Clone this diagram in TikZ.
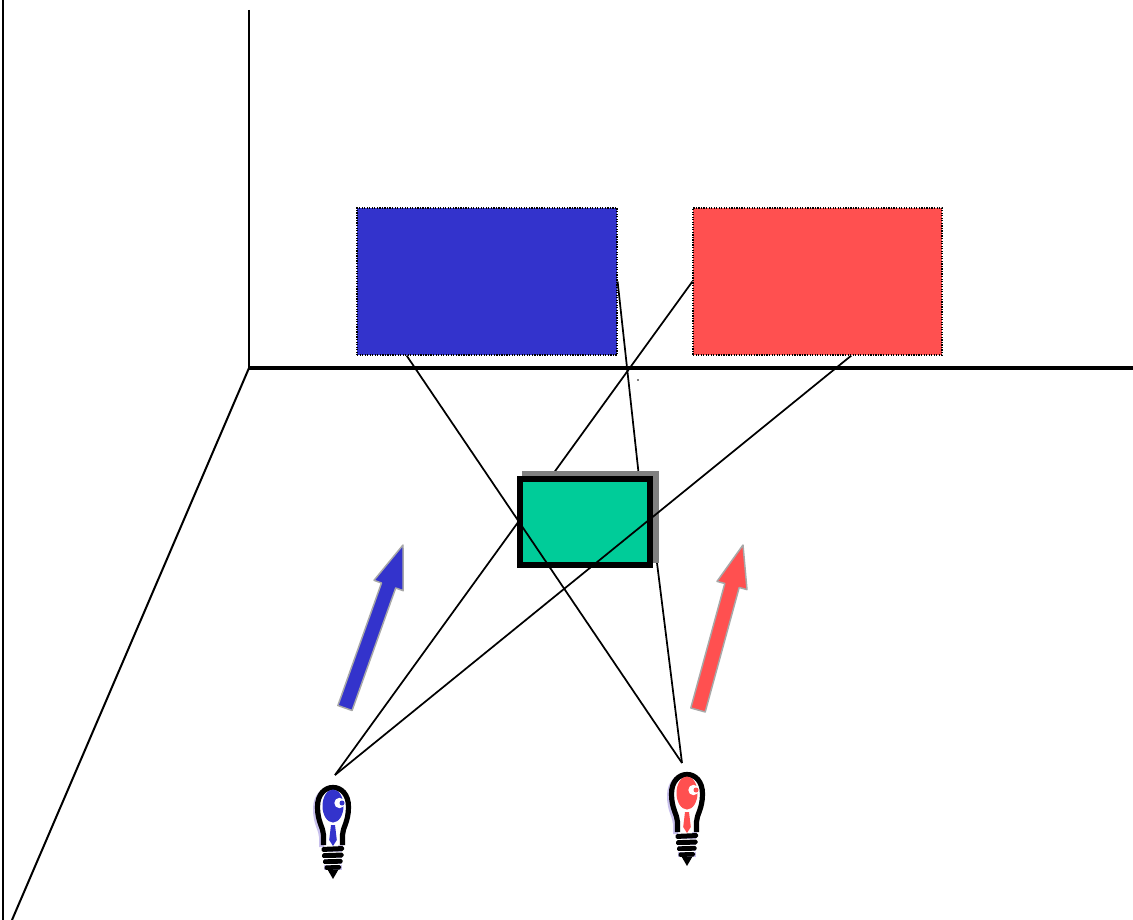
\documentclass[tikz,border=0pt]{standalone}
\usetikzlibrary{calc}
\definecolor{bluefill}{HTML}{3333CC}
\definecolor{redfill}{HTML}{FF5050}
\definecolor{greenfill}{HTML}{00CC99}
\definecolor{shadowgray}{HTML}{808080}
\definecolor{arrowedge}{HTML}{A8A8A8}
\definecolor{lampshadow}{HTML}{C8C0EC}
\tikzset{
  wallline/.style={line width=1.5pt, black},
  floorline/.style={line width=2.8pt, black},
  panel/.style={draw=black, densely dotted, line width=0.9pt, inner sep=0pt, minimum height=110.25pt},
  ray/.style={line width=1.3pt, black},
  fatarrow/.style={draw=arrowedge, line width=1.1pt, line join=round},
}
\newcommand\lampoutline{(-9.5,60) -- (-9.5,50) .. controls (-9.5,43) and (-15.5,37) .. (-15.5,22) .. controls (-15.5,9) and (-8,2.5) .. (0,2.5) .. controls (8,2.5) and (15.5,9) .. (15.5,22) .. controls (15.5,37) and (9.5,43) .. (9.5,50) -- (9.5,60)}
\newcommand\lampicon[3]{%
  \begin{scope}[shift={(#1,#2)}]
    \draw[lampshadow, line width=3.75pt, shift={(-2,2)}] \lampoutline;
    \filldraw[fill=white, draw=black, line width=3.9pt] \lampoutline;
    \fill[#3] (0,21) ellipse [x radius=10.5, y radius=16.5];
    \fill[white] (6.5,18) circle [radius=5.2];
    \fill[#3] (9,18) circle [radius=2.5];
    \fill[#3] (-2,40) -- (2,40) -- (3.8,55) -- (0,61) -- (-3.8,55) -- cycle;
    \fill[lampshadow] (-13,63) rectangle (9,90);
    \fill[white] (-13,63) rectangle (-9,90);
    \fill[black, rounded corners=1.2pt] (-11.5,62) -- (11,61) -- (11,66) -- (-11.5,67) -- cycle;
    \fill[white] (-12,67) rectangle (12,68.2);
    \fill[black, rounded corners=1.2pt] (-11,68.2) -- (10.5,67.5) -- (10.5,72.5) -- (-11,73.2) -- cycle;
    \fill[white] (-12,73.2) rectangle (12,74.4);
    \fill[black, rounded corners=1.2pt] (-10,74.4) -- (9.5,73.8) -- (9.5,78.6) -- (-10,79.2) -- cycle;
    \fill[white] (-12,79.2) rectangle (12,80.4);
    \fill[black, rounded corners=1.2pt] (-8.5,80.4) -- (8,80) -- (8,84.5) -- (-8.5,85) -- cycle;
    \fill[white] (-12,85) rectangle (12,91);
    \fill[black] (-5.5,84.5) -- (5.5,84.5) -- (0,94) -- cycle;
  \end{scope}}
\begin{document}
\begin{tikzpicture}[x=0.75pt, y=-0.75pt]
  \fill[white] (0,0) rectangle (1133,920);
  \useasboundingbox (0,0) rectangle (1133,920);

  % room corner
  \coordinate (corner) at (249,368);
  \coordinate (walltop) at (249,10);
  \coordinate (floorend) at (1133,368);
  \coordinate (diagend) at (12,920);
  \coordinate (edgetop) at (3,0);
  \coordinate (edgebot) at (3,920);
  \draw[line width=2pt] (edgetop) -- (edgebot);
  \draw[wallline] (walltop) -- (corner);
  \draw[wallline] (corner) -- (diagend);
  \draw[floorline] (corner) -- (floorend);

  % coloured panels
  \node[panel, fill=bluefill, minimum width=195pt] (bluebox) at (487,281.5) {};
  \node[panel, fill=redfill, minimum width=186.75pt] (redbox) at (817.5,281.5) {};

  % lamps
  \coordinate (bluelamp) at (335,775);
  \coordinate (redlamp) at (682,763);
  \lampicon{333}{785}{bluefill}
  \lampicon{687}{772}{redfill}

  % ray end points
  \coordinate (bluebot) at ($(bluebox.south west)!0.1923!(bluebox.south east)$);
  \coordinate (redbot) at ($(redbox.south west)!0.635!(redbox.south east)$);
  \coordinate (occtop) at (639,477);
  \coordinate (occside) at (652,523);

  % rays hidden behind the occluder
  \draw[ray] (bluelamp) -- (redbox.west);
  \draw[ray] (bluebox.east) -- (occtop);
  \draw[ray] (occside) -- (redlamp);

  % occluder
  \fill[shadowgray] (522,471) rectangle (659,563);
  \node[draw=black, fill=greenfill, line width=4.1pt, inner sep=0pt,
        minimum width=97.5pt, minimum height=64.5pt] (occluder) at (585,522) {};

  % rays over the occluder
  \draw[ray] (bluebot) -- (redlamp);
  \draw[ray] (bluelamp) -- (redbot);

  % tiny dot
  \fill[black] (638,380) circle [radius=0.9];

  % direction arrows
  \filldraw[fatarrow, fill=bluefill] (337.9,705.5) -- (381.5,583.0) -- (374.0,580.3) -- (403,545) -- (403.2,590.7) -- (395.7,588.0) -- (352.1,710.5) -- cycle;
  \filldraw[fatarrow, fill=redfill] (690.8,708.0) -- (724.8,583.5) -- (717.0,581.4) -- (743,545) -- (747.0,589.6) -- (739.2,587.5) -- (705.2,712.0) -- cycle;
\end{tikzpicture}
\end{document}
